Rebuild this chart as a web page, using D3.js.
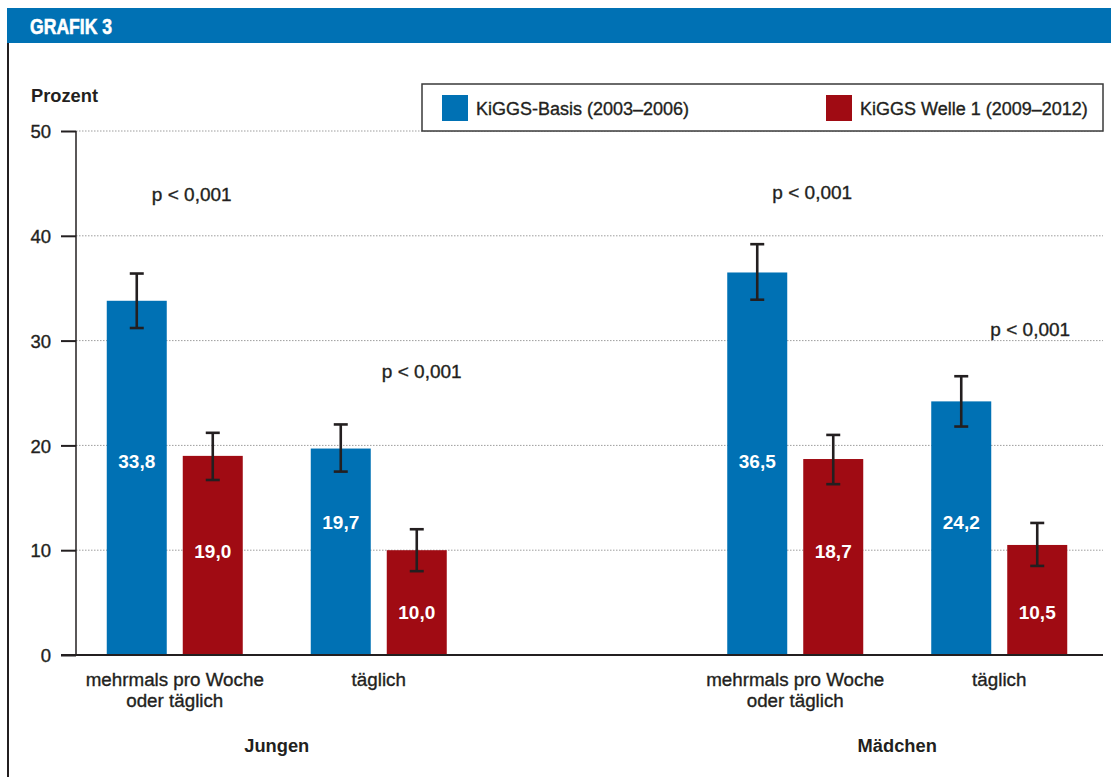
<!DOCTYPE html>
<html>
<head>
<meta charset="utf-8">
<script src="https://cdn.jsdelivr.net/npm/d3@7/dist/d3.min.js"></script>
<style>
  html, body { margin: 0; padding: 0; background: #fff; }
  svg { display: block; }
  text { font-family: "Liberation Sans", Arial, Helvetica, sans-serif; fill: #231f20; }
  /* medium-weight look for running text */
  .medium { stroke: #231f20; stroke-width: 0.35px; }
</style>
</head>
<body>
<svg id="chart" width="1111" height="777"></svg>
<script>
// Chart data: share (%) of children by frequency, two survey waves
const genders = ["Jungen", "Mädchen"];
const categories = ["mehrmals pro Woche oder täglich", "täglich"];
const categoryLines = [["mehrmals pro Woche", "oder täglich"], ["täglich"]];
const series = ["KiGGS-Basis (2003–2006)", "KiGGS Welle 1 (2009–2012)"];

// values ordered: Jungen/mehrmals, Jungen/täglich, Mädchen/mehrmals, Mädchen/täglich
const basisValues = [33.8, 19.7, 36.5, 24.2];
const basisLow    = [31.2, 17.5, 33.9, 21.8];
const basisHigh   = [36.4, 22.0, 39.2, 26.6];
const welleValues = [19.0, 10.0, 18.7, 10.5];
const welleLow    = [16.7, 8.0, 16.3, 8.5];
const welleHigh   = [21.2, 12.0, 21.0, 12.6];
const pLabels     = ["p < 0,001", "p < 0,001", "p < 0,001", "p < 0,001"];

const yTicks = [0, 10, 20, 30, 40, 50];
const yTitle = "Prozent";
const headerTitle = "GRAFIK 3";

// styling
const colors = { [series[0]]: "#0071b4", [series[1]]: "#a00b13" };
const ink = "#231f20";
const headerBlue = "#0071b4";

// placement of the in-bar value labels (px above the axis) per category & series
const valueLabelLift = [[187, 97], [126.5, 36]];
// placement of the p-value notes: x shift from group centre, y in axis units
const pNoteLayout = [
  { dx: 17, y: 43.3 }, { dx: 43, y: 26.4 },
  { dx: 17, y: 43.5 }, { dx: 31, y: 30.4 }
];

const svg = d3.select("#chart");
const fmt = d3.formatLocale({ decimal: ",", thousands: ".", grouping: [3], currency: ["", "€"] }).format(".1f");

// rows
const rows = [];
genders.forEach((g, gi) => categories.forEach((c, ci) => {
  const i = gi * 2 + ci;
  rows.push({ gender: g, category: c, ci, i, values: [
    { series: series[0], si: 0, v: basisValues[i], lo: basisLow[i], hi: basisHigh[i] },
    { series: series[1], si: 1, v: welleValues[i], lo: welleLow[i], hi: welleHigh[i] }
  ]});
}));

// scales
const plotLeft = 76, plotRight = 1103, plotTop = 131, plotBottom = 655;
const y = d3.scaleLinear().domain([0, 50]).range([plotBottom, plotTop]);
const xGender = d3.scalePoint().domain(genders).range([72, 1102]).padding(0.33);
const xCat = d3.scaleBand().domain(categories).range([-204, 204]);
const xSeries = d3.scaleBand().domain(series).range([-68, 68]).paddingInner(16 / 76).paddingOuter(0);
const groupCenter = r => xGender(r.gender) + xCat(r.category) + xCat.bandwidth() / 2;

// header band and frame
svg.append("rect").attr("x", 7).attr("y", 8).attr("width", 1104).attr("height", 35).attr("fill", headerBlue);
svg.append("text").attr("transform", "translate(30,33.5) scale(0.8,1)")
  .style("font-weight", "bold").style("font-size", "22px").style("fill", "#fff")
  .style("stroke", "#fff").style("stroke-width", "0.6px")
  .text(headerTitle);
svg.append("line").attr("x1", 8).attr("x2", 8).attr("y1", 43).attr("y2", 777)
  .attr("stroke", ink).attr("stroke-width", 2);

// gridlines
svg.append("g").selectAll("line").data(yTicks.filter(t => t > 0)).join("line")
  .attr("x1", plotLeft).attr("x2", plotRight)
  .attr("y1", d => y(d)).attr("y2", d => y(d))
  .attr("stroke", "#9d9d9d").attr("stroke-width", 1).attr("stroke-dasharray", "1.5,1.5");

// y axis
const yAxis = d3.axisLeft(y).tickValues(yTicks).tickSize(15).tickPadding(10).tickFormat(d3.format("d"));
const gy = svg.append("g").attr("transform", `translate(${plotLeft},0)`).call(yAxis);
gy.select(".domain").attr("stroke", ink).attr("stroke-width", 1.5).attr("d", `M0,${y(50)}V${y(0)}`);
gy.selectAll(".tick line").attr("stroke", ink).attr("stroke-width", 2);
gy.selectAll(".tick text").attr("class", "medium").style("font-size", "18.5px")
  .style("font-family", '"Liberation Sans", Arial, sans-serif').attr("fill", ink).attr("dy", "0.36em");

svg.append("text").attr("x", 31).attr("y", 102).style("font-weight", "bold").style("font-size", "18.3px").text(yTitle);

// bars
const groups = svg.append("g").selectAll("g").data(rows).join("g")
  .attr("transform", r => `translate(${groupCenter(r)},0)`);

groups.selectAll("rect").data(r => r.values).join("rect")
  .attr("x", d => xSeries(d.series)).attr("width", xSeries.bandwidth())
  .attr("y", d => y(d.v)).attr("height", d => y(0) - y(d.v))
  .attr("fill", d => colors[d.series]);

// baseline
svg.append("line").attr("x1", 61).attr("x2", plotRight).attr("y1", y(0)).attr("y2", y(0))
  .attr("stroke", ink).attr("stroke-width", 2);

// error bars
const eb = groups.selectAll("g.err").data(r => r.values).join("g").attr("class", "err")
  .attr("transform", d => `translate(${xSeries(d.series) + xSeries.bandwidth() / 2},0)`)
  .attr("stroke", ink).attr("stroke-width", 2.6);
eb.append("line").attr("x1", 0).attr("x2", 0).attr("y1", d => y(d.hi)).attr("y2", d => y(d.lo));
eb.append("line").attr("x1", -7).attr("x2", 7).attr("y1", d => y(d.hi)).attr("y2", d => y(d.hi));
eb.append("line").attr("x1", -7).attr("x2", 7).attr("y1", d => y(d.lo)).attr("y2", d => y(d.lo));

// value labels inside bars
groups.each(function (r) {
  d3.select(this).selectAll("text.val").data(r.values).join("text").attr("class", "val")
    .attr("x", d => xSeries(d.series) + xSeries.bandwidth() / 2)
    .attr("y", d => y(0) - valueLabelLift[r.ci][d.si])
    .attr("text-anchor", "middle")
    .style("font-weight", "bold").style("font-size", "19px").style("fill", "#fff")
    .text(d => fmt(d.v));
});

// p-value notes
groups.append("text").attr("class", "medium")
  .attr("x", r => pNoteLayout[r.i].dx)
  .attr("y", r => y(pNoteLayout[r.i].y))
  .attr("text-anchor", "middle").style("font-size", "19px")
  .text(r => pLabels[r.i]);

// category labels
groups.append("text").attr("class", "medium").attr("text-anchor", "middle").style("font-size", "18.8px")
  .selectAll("tspan").data(r => categoryLines[r.ci]).join("tspan")
  .attr("x", 0).attr("y", (d, i) => 686 + i * 21).text(d => d);

// gender labels
svg.append("g").selectAll("text").data(genders).join("text")
  .attr("x", d => xGender(d)).attr("y", 752).attr("text-anchor", "middle")
  .style("font-weight", "bold").style("font-size", "18.3px").text(d => d);

// legend
const legend = svg.append("g");
legend.append("rect").attr("x", 422).attr("y", 84).attr("width", 681).attr("height", 47)
  .attr("fill", "#fff").attr("stroke", "#3a3a3a").attr("stroke-width", 1.5);
const legendX = [442, 826];
const li = legend.selectAll("g.item").data(series).join("g").attr("class", "item")
  .attr("transform", (d, i) => `translate(${legendX[i]},0)`);
li.append("rect").attr("x", 0).attr("y", 95).attr("width", 26).attr("height", 26).attr("fill", d => colors[d]);
li.append("text").attr("class", "medium").attr("x", 34).attr("y", 115).style("font-size", "18px").text(d => d);
</script>
</body>
</html>
